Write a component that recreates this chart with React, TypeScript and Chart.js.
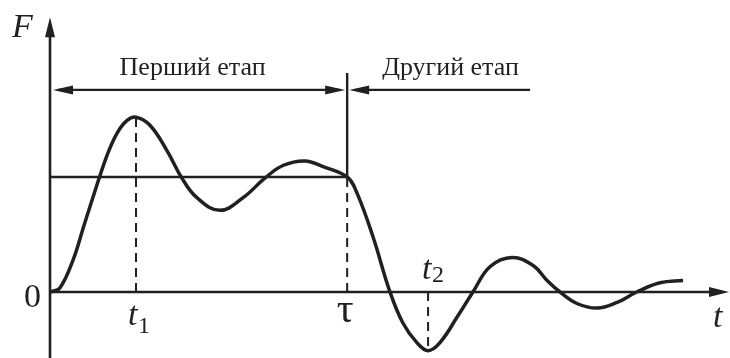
import React, { useEffect, useRef } from "react";
import { Chart, registerables } from "chart.js";

Chart.register(...registerables);

// Force F(t) curve: time t (arbitrary units), force F relative to the plateau level
const curveT = [
  0, 0.29, 0.68, 0.97, 1.26, 1.68, 1.97, 2.26, 2.53, 2.94, 3.44, 3.88, 4.32, 5.0,
  5.68, 6.32, 6.85, 7.5, 8.03, 8.74, 9.03, 9.5, 10.0, 10.38, 10.79, 11.12, 11.47,
  11.97, 12.44, 12.94, 13.59, 14.21, 14.62, 15.0, 15.5, 16.09, 16.68, 17.26, 17.94, 18.62,
];
const curveF = [
  0, 0.035, 0.28, 0.55, 0.82, 1.19, 1.38, 1.49, 1.52, 1.45, 1.23, 0.99, 0.82, 0.71,
  0.82, 0.99, 1.1, 1.14, 1.09, 1.0, 0.86, 0.48, 0, -0.27, -0.44, -0.51, -0.44,
  -0.22, 0, 0.22, 0.3, 0.23, 0.1, 0, -0.1, -0.14, -0.09, 0, 0.08, 0.1,
];

// Marked instants on the time axis and their force values
const markT = [2.53, 8.74, 11.12]; // t1, τ, t2
const markF = [1.52, 1.0, -0.51];
const plateauF = 1.0;

// Stage annotations
const stageNames = ["Перший етап", "Другий етап"];
const stageArrowF = 1.757;
const stageTwoEndT = 14.12;
const tauLineTopF = 1.904;

// Axis extents
const tRange = [0, 20];
const fRange = [-0.5, 2.4];
const fAxisTop = 2.39;

const INK = "#231f20";
const SERIF = '"Liberation Serif", "Times New Roman", serif';

function arrowHead(
  ctx: CanvasRenderingContext2D,
  tipX: number,
  tipY: number,
  dx: number,
  dy: number,
  len: number,
  half: number
) {
  const bx = tipX - dx * len;
  const by = tipY - dy * len;
  ctx.beginPath();
  ctx.moveTo(tipX, tipY);
  ctx.lineTo(bx - dy * half, by + dx * half);
  ctx.lineTo(bx + dy * half, by - dx * half);
  ctx.closePath();
  ctx.fill();
}

const diagramPlugin = {
  id: "forceDiagram",
  afterDatasetsDraw(chart: any) {
    const { ctx } = chart;
    const xs = chart.scales.x;
    const ys = chart.scales.y;
    const px = (v: number) => xs.getPixelForValue(v);
    const py = (v: number) => ys.getPixelForValue(v);
    const x0 = px(0);
    const y0 = py(0);

    ctx.save();
    ctx.strokeStyle = INK;
    ctx.fillStyle = INK;
    ctx.lineCap = "butt";

    // Axes
    ctx.lineWidth = 2.6;
    ctx.beginPath();
    ctx.moveTo(x0, chart.height);
    ctx.lineTo(x0, py(fAxisTop) + 8);
    ctx.moveTo(x0, y0);
    ctx.lineTo(chart.width - 8, y0);
    ctx.stroke();
    arrowHead(ctx, x0, py(fAxisTop), 0, -1, 20, 5);
    arrowHead(ctx, chart.width - 1, y0, 1, 0, 20, 5);

    // Plateau level and τ boundary
    ctx.lineWidth = 2.4;
    ctx.beginPath();
    ctx.moveTo(x0, py(plateauF));
    ctx.lineTo(px(markT[1]), py(plateauF));
    ctx.moveTo(px(markT[1]), py(plateauF));
    ctx.lineTo(px(markT[1]), py(tauLineTopF));
    ctx.stroke();

    // Stage arrows
    const ya = py(stageArrowF);
    ctx.lineWidth = 2.2;
    ctx.beginPath();
    ctx.moveTo(x0 + 8, ya);
    ctx.lineTo(px(markT[1]) - 8, ya);
    ctx.moveTo(px(markT[1]) + 8, ya);
    ctx.lineTo(px(stageTwoEndT), ya);
    ctx.stroke();
    arrowHead(ctx, x0 + 3, ya, -1, 0, 20, 4.5);
    arrowHead(ctx, px(markT[1]) - 2, ya, 1, 0, 20, 4.5);
    arrowHead(ctx, px(markT[1]) + 2, ya, -1, 0, 20, 4.5);

    // Dashed drop lines
    ctx.lineWidth = 2;
    ctx.setLineDash([9, 6]);
    for (let i = 0; i < markT.length; i++) {
      ctx.beginPath();
      ctx.moveTo(px(markT[i]), y0);
      ctx.lineTo(px(markT[i]), py(markF[i]));
      ctx.stroke();
    }
    ctx.setLineDash([]);

    // Texts
    ctx.textBaseline = "alphabetic";
    ctx.font = `26px ${SERIF}`;
    ctx.textAlign = "center";
    ctx.fillText(stageNames[0], (x0 + px(markT[1])) / 2 - 6, ya - 15);
    ctx.textAlign = "left";
    ctx.fillText(stageNames[1], px(markT[1]) + 35, ya - 15);

    ctx.font = `italic 34px ${SERIF}`;
    ctx.textAlign = "left";
    ctx.fillText("F", 12, 37);
    ctx.fillText("t", 713, y0 + 35);
    ctx.fillText("t", px(markT[0]) - 8, y0 + 33);
    ctx.fillText("t", px(markT[2]) - 6, y0 - 13);

    ctx.font = `34px ${SERIF}`;
    ctx.textAlign = "right";
    ctx.fillText("0", x0 - 9, y0 + 15);
    ctx.font = `42px ${SERIF}`;
    ctx.textAlign = "center";
    ctx.fillText("τ", px(markT[1]) - 2, y0 + 30);

    ctx.font = `24px ${SERIF}`;
    ctx.textAlign = "left";
    ctx.fillText("1", px(markT[0]) + 2, y0 + 41);
    ctx.fillText("2", px(markT[2]) + 4, y0 - 10);

    ctx.restore();
  },
};

export default function App() {
  const canvasRef = useRef<HTMLCanvasElement | null>(null);

  useEffect(() => {
    document.body.style.margin = "0";
    const canvas = canvasRef.current;
    if (!canvas) return;
    const chart = new Chart(canvas, {
      type: "line",
      data: {
        datasets: [
          {
            data: curveT.map((t, i) => ({ x: t, y: curveF[i] })),
            borderColor: INK,
            borderWidth: 3.5,
            pointRadius: 0,
            tension: 0.4,
            borderJoinStyle: "round",
            fill: false,
            clip: false as any,
          },
        ],
      },
      options: {
        animation: false,
        responsive: false,
        devicePixelRatio: 1,
        layout: { padding: { left: 50, right: 0, top: 16, bottom: 8.5 } },
        plugins: { legend: { display: false }, tooltip: { enabled: false } },
        events: [],
        scales: {
          x: { type: "linear", min: tRange[0], max: tRange[1], display: false },
          y: { type: "linear", min: fRange[0], max: fRange[1], display: false },
        },
      },
      plugins: [diagramPlugin],
    });
    return () => chart.destroy();
  }, []);

  return (
    <div style={{ position: "fixed", left: 0, top: 0, width: 730, height: 358, background: "#fff" }}>
      <canvas ref={canvasRef} width={730} height={358} style={{ width: 730, height: 358, display: "block" }} />
    </div>
  );
}
